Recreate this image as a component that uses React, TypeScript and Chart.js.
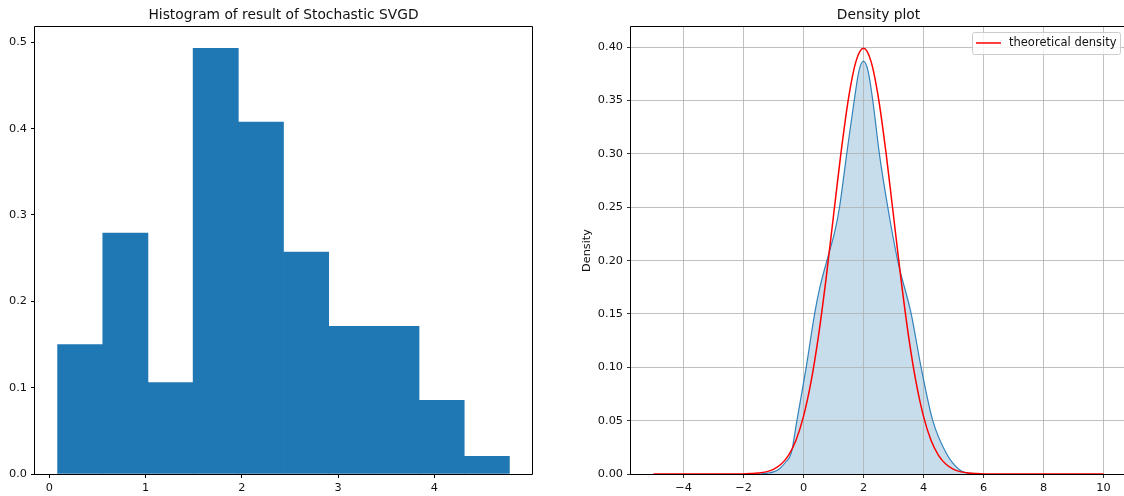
import React, { useEffect, useRef } from "react";
import { Chart, registerables } from "chart.js";

Chart.register(...registerables);

const FONT = "'DejaVu Sans', 'Liberation Sans', sans-serif";
const TEXT = "#111111";
const BLUE = "#1f77b4";

// ---------- Left panel: histogram ----------
const histTitle = "Histogram of result of Stochastic SVGD";
const histEdges = [0.085, 0.5545, 1.024, 1.4935, 1.963, 2.4325, 2.902, 3.3715, 3.841, 4.3105, 4.78];
const histDensity = [0.150, 0.279, 0.106, 0.493, 0.4075, 0.257, 0.171, 0.171, 0.0854, 0.0205];
const histXTicks = [0, 1, 2, 3, 4];
const histXTickLabels = ["0", "1", "2", "3", "4"];
const histYTicks = [0, 0.1, 0.2, 0.3, 0.4, 0.5];
const histYTickLabels = ["0.0", "0.1", "0.2", "0.3", "0.4", "0.5"];

// ---------- Right panel: density ----------
const densTitle = "Density plot";
const densYLabel = "Density";
const legendLabel = "theoretical density";
const kdeX = [-1.5, -1.2, -1.0, -0.8, -0.6, -0.41, -0.22, 0.09, 0.37, 0.53, 0.78, 1.05, 1.2, 1.44, 1.69, 1.85, 2.0, 2.15, 2.31, 2.53, 2.81, 3.14, 3.59, 3.92, 4.31, 4.76, 5.2, 5.6, 6.0];
const kdeY = [0.0, 0.0008, 0.002, 0.005, 0.011, 0.0195, 0.05, 0.10, 0.15, 0.173, 0.20, 0.228, 0.25, 0.30, 0.35, 0.378, 0.387, 0.378, 0.35, 0.30, 0.25, 0.20, 0.15, 0.10, 0.05, 0.0195, 0.004, 0.0005, 0.0];
const theoX = [-5, -3, -2, -1.75, -1.5, -1.25, -1, -0.75, -0.5, -0.25, 0, 0.25, 0.5, 0.75, 1, 1.25, 1.5, 1.75, 2, 2.25, 2.5, 2.75, 3, 3.25, 3.5, 3.75, 4, 4.25, 4.5, 4.75, 5, 5.25, 5.5, 5.75, 6, 7, 10];
const theoY = [0, 0, 0.0001, 0.0004, 0.0009, 0.002, 0.0044, 0.0091, 0.0175, 0.0317, 0.054, 0.0863, 0.1295, 0.1826, 0.242, 0.3011, 0.3521, 0.3867, 0.3989, 0.3867, 0.3521, 0.3011, 0.242, 0.1826, 0.1295, 0.0863, 0.054, 0.0317, 0.0175, 0.0091, 0.0044, 0.002, 0.0009, 0.0004, 0.0001, 0, 0];
const densXTicks = [-4, -2, 0, 2, 4, 6, 8, 10];
const densXTickLabels = ["\u22124", "\u22122", "0", "2", "4", "6", "8", "10"];
const densYTicks = [0, 0.05, 0.1, 0.15, 0.2, 0.25, 0.3, 0.35, 0.4];
const densYTickLabels = ["0.00", "0.05", "0.10", "0.15", "0.20", "0.25", "0.30", "0.35", "0.40"];

function labelFor(values: number[], labels: string[]) {
  return (v: any) => {
    const i = values.findIndex((t) => Math.abs(t - Number(v)) < 1e-9);
    return i >= 0 ? labels[i] : "";
  };
}

function setTicks(values: number[]) {
  return (scale: any) => {
    scale.ticks = values.map((v) => ({ value: v }));
  };
}

function frameTitlePlugin(title: string) {
  return {
    id: "frameTitle",
    afterDraw(chart: any) {
      const { ctx, chartArea } = chart;
      const { left, right, top, bottom } = chartArea;
      ctx.save();
      ctx.strokeStyle = "#000";
      ctx.lineWidth = 1;
      ctx.beginPath();
      ctx.rect(Math.round(left) - 0.5, Math.round(top) - 0.5, Math.round(right - left) + 1, Math.round(bottom - top) + 1);
      ctx.stroke();
      ctx.fillStyle = TEXT;
      ctx.font = `13.8px ${FONT}`;
      ctx.textAlign = "center";
      ctx.textBaseline = "alphabetic";
      ctx.fillText(title, (left + right) / 2, top - 8);
      ctx.restore();
    },
  };
}

const legendPlugin = {
  id: "innerLegend",
  afterDraw(chart: any) {
    const { ctx } = chart;
    const x0 = 972 - 560;
    const y0 = 32;
    const w = 148;
    const h = 22;
    ctx.save();
    ctx.beginPath();
    (ctx as any).roundRect(x0 + 0.5, y0 + 0.5, w, h, 2);
    ctx.fillStyle = "rgba(255,255,255,0.8)";
    ctx.fill();
    ctx.strokeStyle = "#cccccc";
    ctx.lineWidth = 1;
    ctx.stroke();
    ctx.beginPath();
    ctx.moveTo(x0 + 4, y0 + 11);
    ctx.lineTo(x0 + 29, y0 + 11);
    ctx.strokeStyle = "red";
    ctx.lineWidth = 1.5;
    ctx.stroke();
    ctx.fillStyle = TEXT;
    ctx.font = `11.5px ${FONT}`;
    ctx.textAlign = "left";
    ctx.textBaseline = "middle";
    ctx.fillText(legendLabel, x0 + 37, y0 + 11.5);
    ctx.restore();
  },
};

const tickFont = { family: FONT, size: 11.3 };

function HistChart() {
  const ref = useRef<HTMLCanvasElement | null>(null);
  useEffect(() => {
    if (!ref.current) return;
    const centers = histDensity.map((_, i) => (histEdges[i] + histEdges[i + 1]) / 2);
    const span = histEdges[histEdges.length - 1] - histEdges[0];
    const xMin = histEdges[0] - 0.05 * span;
    const xMax = histEdges[histEdges.length - 1] + 0.05 * span;
    const chart = new Chart(ref.current, {
      type: "bar",
      data: {
        datasets: [
          {
            data: centers.map((c, i) => ({ x: c, y: histDensity[i] })),
            backgroundColor: BLUE,
            borderWidth: 0,
            barPercentage: 1,
            categoryPercentage: 1,
          },
        ],
      },
      options: {
        animation: false,
        responsive: false,
        devicePixelRatio: 1,
        layout: { padding: { left: 0, right: 28, top: 27, bottom: 0 } },
        plugins: { legend: { display: false }, tooltip: { enabled: false }, title: { display: false } },
        scales: {
          x: {
            type: "linear",
            min: xMin,
            max: xMax,
            offset: false,
            afterBuildTicks: setTicks(histXTicks),
            afterFit: (s: any) => { s.height = 22; },
            border: { display: false },
            grid: { offset: false, drawOnChartArea: false, drawTicks: true, tickLength: 4, tickColor: "#000" },
            ticks: { font: tickFont, color: TEXT, padding: 3, maxRotation: 0, callback: labelFor(histXTicks, histXTickLabels) },
          },
          y: {
            min: 0,
            max: 0.5177,
            afterBuildTicks: setTicks(histYTicks),
            afterFit: (s: any) => { s.width = 35; },
            border: { display: false },
            grid: { drawOnChartArea: false, drawTicks: true, tickLength: 4, tickColor: "#000" },
            ticks: { font: tickFont, color: TEXT, padding: 4, callback: labelFor(histYTicks, histYTickLabels) },
          },
        },
      },
      plugins: [frameTitlePlugin(histTitle)],
    } as any);
    return () => chart.destroy();
  }, []);
  return <canvas ref={ref} width={560} height={496} style={{ width: 560, height: 496, display: "block" }} />;
}

function DensityChart() {
  const ref = useRef<HTMLCanvasElement | null>(null);
  useEffect(() => {
    if (!ref.current) return;
    const chart = new Chart(ref.current, {
      type: "line",
      data: {
        datasets: [
          {
            label: legendLabel,
            data: theoX.map((x, i) => ({ x, y: theoY[i] })),
            borderColor: "red",
            borderWidth: 1.5,
            pointRadius: 0,
            cubicInterpolationMode: "monotone",
            fill: false,
            order: 0,
          },
          {
            label: "kde",
            data: kdeX.map((x, i) => ({ x, y: kdeY[i] })),
            borderColor: "rgba(31,119,180,0.9)",
            borderWidth: 1.2,
            backgroundColor: "rgba(31,119,180,0.25)",
            pointRadius: 0,
            cubicInterpolationMode: "monotone",
            fill: "origin",
            order: 1,
          },
        ],
      },
      options: {
        animation: false,
        responsive: false,
        devicePixelRatio: 1,
        layout: { padding: { left: 0, right: 34, top: 27, bottom: 0 } },
        plugins: {
          legend: { display: false },
          tooltip: { enabled: false },
          title: { display: false },
          filler: { drawTime: "beforeDraw" },
        },
        scales: {
          x: {
            type: "linear",
            min: -5.75,
            max: 10.75,
            afterBuildTicks: setTicks(densXTicks),
            afterFit: (s: any) => { s.height = 22; },
            border: { display: false },
            grid: { color: "#b0b0b0", lineWidth: 0.8, drawTicks: true, tickLength: 4, tickColor: "#000" },
            ticks: { font: tickFont, color: TEXT, padding: 3, maxRotation: 0, callback: labelFor(densXTicks, densXTickLabels) },
          },
          y: {
            min: 0,
            max: 0.4189,
            afterBuildTicks: setTicks(densYTicks),
            afterFit: (s: any) => { s.width = 71; },
            border: { display: false },
            grid: { color: "#b0b0b0", lineWidth: 0.8, drawTicks: true, tickLength: 4, tickColor: "#000" },
            ticks: { font: tickFont, color: TEXT, padding: 4, callback: labelFor(densYTicks, densYTickLabels) },
            title: { display: true, text: densYLabel, font: { family: FONT, size: 11.3 }, color: TEXT, padding: { top: 20, bottom: 0 } },
          },
        },
      },
      plugins: [frameTitlePlugin(densTitle), legendPlugin],
    } as any);
    return () => chart.destroy();
  }, []);
  return <canvas ref={ref} width={600} height={496} style={{ width: 600, height: 496, display: "block" }} />;
}

export default function App() {
  return (
    <div style={{ position: "fixed", left: 0, top: 0, width: 1124, height: 496, overflow: "hidden", background: "#fff" }}>
      <div style={{ position: "absolute", left: 0, top: 0, width: 560, height: 496 }}>
        <HistChart />
      </div>
      <div style={{ position: "absolute", left: 560, top: 0, width: 600, height: 496 }}>
        <DensityChart />
      </div>
    </div>
  );
}
